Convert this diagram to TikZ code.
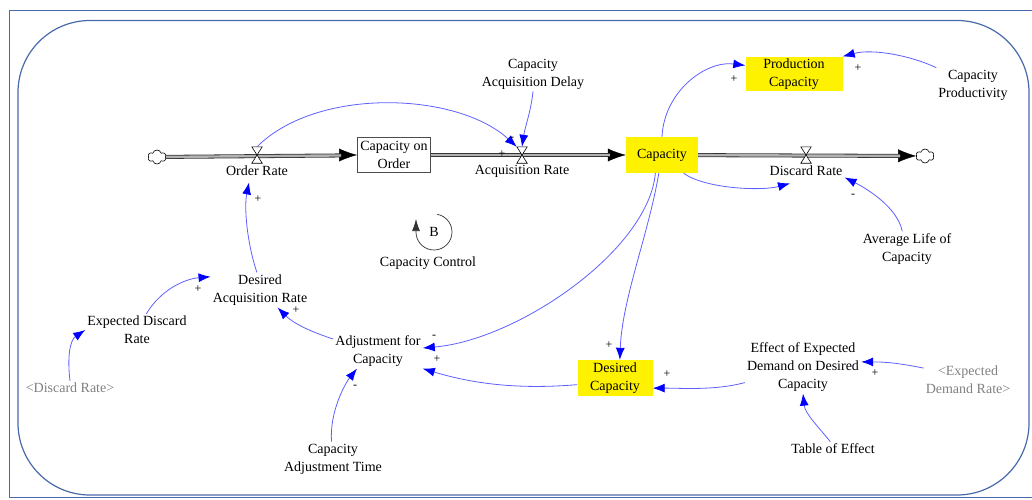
\documentclass[tikz,border=0pt]{standalone}
\usepackage{fontspec}
\setmainfont{Liberation Serif}
\usetikzlibrary{arrows.meta,shapes.symbols,positioning}
\definecolor{linkblue}{RGB}{95,95,255}
\definecolor{framecol}{RGB}{72,106,170}
\definecolor{ghostgray}{RGB}{128,128,128}
\begin{document}
\begin{tikzpicture}[x=1pt,y=-1pt,
    var/.style={align=center,inner sep=2pt,font=\fontsize{14}{18}\selectfont},
    ghost/.style={var,text=ghostgray},
    stock/.style={var,draw=black!70,line width=0.8pt,fill=white,minimum width=73pt,minimum height=35pt},
    hilite/.style={var,fill=yellow},
    valve/.style={inner sep=0pt,minimum width=10pt,minimum height=16pt},
    cloudnode/.style={cloud,cloud puffs=6,draw,line width=0.6pt,fill=white,minimum width=18pt,minimum height=14pt,inner sep=0pt},
    pipe/.style={draw=black!80,line width=0.8pt,double=black!30,double distance=2.4pt},
    pipehead/.style={black,line width=0.4pt,-{Latex[length=18pt,width=13pt]}},
    link/.style={linkblue,line width=0.8pt,-{Latex[length=12pt,width=9pt,color=blue]}},
    sign/.style={inner sep=0pt,font=\fontsize{12}{12}\selectfont}]
  \useasboundingbox (0,0) rectangle (1032,499);
  \draw[framecol,line width=1pt] (9,10) rectangle (1045,497);
  \draw[framecol,line width=1.2pt,rounded corners=72pt] (18,20.5) rectangle (1029,495);

  \node[cloudnode] (src) at (157,157) {};
  \node[valve] (orv) at (257,155) {};
  \node[var,below=0pt of orv] (orl) {Order Rate};
  \node[stock] (coo) at (394,155) {Capacity on\\Order};
  \node[valve] (arv) at (522,155) {};
  \node[var,below=0pt of arv] (arl) {Acquisition Rate};
  \node[hilite,minimum width=72pt,minimum height=36pt] (cap) at (662,155) {Capacity};
  \node[valve] (drv) at (806,155) {};
  \node[var,below=0pt of drv] (drl) {Discard Rate};
  \node[cloudnode] (snk) at (925,156) {};
  \node[hilite,minimum width=97pt,minimum height=34pt] (pc) at (794,74) {Production\\Capacity};
  \node[var] (cp) at (973,85) {Capacity\\Productivity};
  \node[var] (cad) at (533,74) {Capacity\\Acquisition Delay};
  \node[var] (alc) at (907,249) {Average Life of\\Capacity};
  \node[var] (dar) at (260,290) {Desired\\Acquisition Rate};
  \node[var] (edr) at (137,330) {Expected Discard\\Rate};
  \node[ghost] (drs) at (70,388) {<Discard Rate>};
  \node[var] (afc) at (378,351) {Adjustment for\\Capacity};
  \node[var] (cat) at (333,459) {Capacity\\Adjustment Time};
  \node[hilite,minimum width=75pt,minimum height=36pt] (dc) at (615,378) {Desired\\Capacity};
  \node[var] (eed) at (803,367) {Effect of Expected\\Demand on Desired\\Capacity};
  \node[ghost] (edrs) at (968,380) {<Expected\\Demand Rate>};
  \node[var] (toe) at (833,449) {Table of Effect};
  \node[var] (lb) at (434,232) {B};
  \node[var] (lcc) at (428,263) {Capacity Control};

  \draw[pipehead] (orv) -- (coo);
  \draw[pipehead] (arv) -- (cap);
  \draw[pipehead] (drv) -- (snk);
  \draw[pipe,shorten >=16pt] (src) -- (coo);
  \draw[pipe,shorten >=16pt] (coo) -- (cap);
  \draw[pipe,shorten >=16pt] (cap) -- (snk);
  \foreach \v in {orv,arv,drv}
    \draw[fill=white,line width=0.6pt] (\v.north west) -- (\v.north east) -- (\v.south west) -- (\v.south east) -- cycle;

  \draw[black!80,line width=0.7pt,-{Latex[length=12pt,width=8pt]}] (lb) ++(-80:18) arc[start angle=-80,end angle=180,radius=18] -- ++(0,-13);

  \begin{scope}[link]
    \draw (orv.north) .. controls +(60,-60) and +(-60,-55) .. (arv.north west);
    \draw (cad.south) .. controls +(-2,20) and +(3,-20) .. (arv.north);
    \draw (cap.north) .. controls +(2,-45) and +(-40,-5) .. (pc.170);
    \draw (cp.north west) .. controls +(-25,-12) and +(30,-8) .. (pc.north east);
    \draw (cap.-40) .. controls +(20,15) and +(-30,8) .. ([xshift=-16pt,yshift=-6pt]drl.south);
    \draw (alc.105) .. controls +(-5,-25) and +(20,10) .. (drl.south east);
    \draw (cap.-110) .. controls +(-7,77) and +(95,-8) .. ([yshift=3pt]afc.east);
    \draw (cap.-100) .. controls +(-10,60) and +(2,-60) .. (dc.75);
    \draw (eed.195) .. controls +(-30,8) and +(30,0) .. (dc.-15);
    \draw (edrs.165) .. controls +(-25,-5) and +(25,0) .. (eed.5);
    \draw (toe.110) .. controls +(-12,-15) and +(2,20) .. (eed.south);
    \draw (dc.190) .. controls +(-60,5) and +(50,15) .. (afc.south east);
    \draw (cat.95) .. controls +(-2,-30) and +(-12,15) .. (afc.-140);
    \draw (afc.165) .. controls +(-25,-8) and +(15,15) .. (dar.-45);
    \draw (dar.100) .. controls +(-10,-30) and +(-5,25) .. ([xshift=-8pt,yshift=-5pt]orl.south);
    \draw (edr.60) .. controls +(15,-25) and +(-25,2) .. (dar.165);
    \draw (drs.north) .. controls +(-3,-25) and +(-15,10) .. (edr.west);
  \end{scope}

  \node[sign] (s1) at (502,154) {+};
  \node[sign] (s2) at (512,139) {-};
  \node[sign] (s3) at (734,79) {+};
  \node[sign] (s4) at (858,68) {+};
  \node[sign] (s5) at (853,196) {-};
  \node[sign] (s6) at (434,337) {-};
  \node[sign] (s7) at (437,359) {+};
  \node[sign] (s8) at (609,345) {+};
  \node[sign] (s9) at (667,374) {+};
  \node[sign] (s10) at (875,373) {+};
  \node[sign] (s11) at (355,387) {-};
  \node[sign] (s12) at (296,310) {+};
  \node[sign] (s13) at (258,199) {+};
  \node[sign] (s14) at (198,289) {+};
\end{tikzpicture}
\end{document}
